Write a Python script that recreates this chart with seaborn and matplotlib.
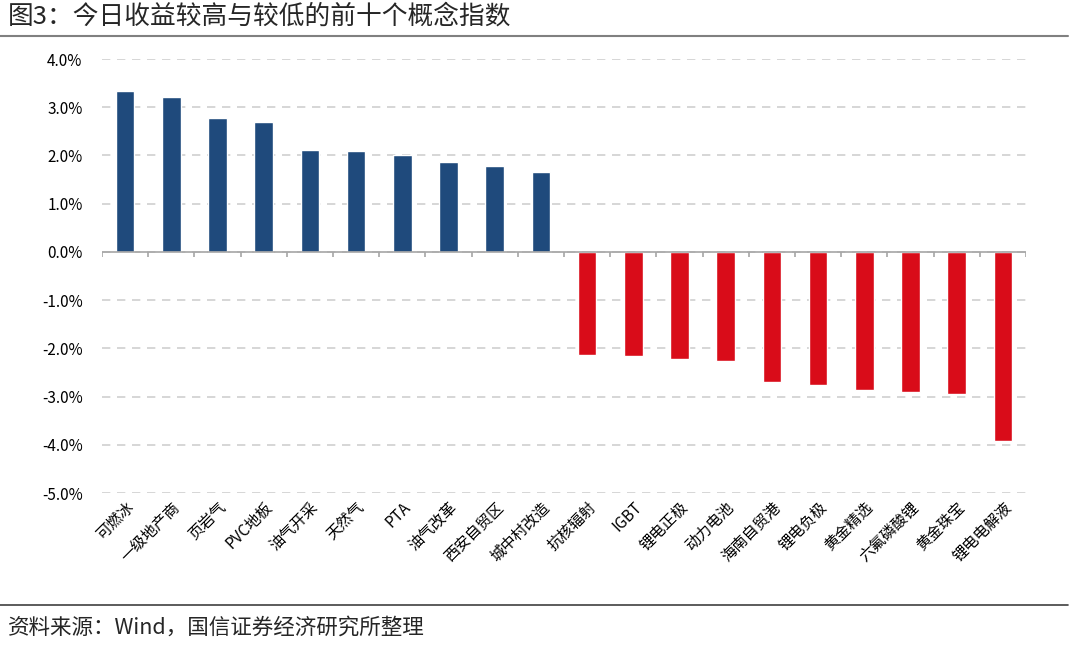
"""
今日收益较高与较低的前十个概念指数 - bar chart
"""

import numpy as np
import matplotlib
matplotlib.use("Agg")
import matplotlib.pyplot as plt
import seaborn as sns
from matplotlib.ticker import FuncFormatter

# data (%)
top_names = ['可燃冰', '一级地产商', '页岩气', 'PVC地板', '油气开采', '天然气',
             'PTA', '油气改革', '西安自贸区', '城中村改造']
top_values = [3.33, 3.21, 2.77, 2.70, 2.11, 2.09, 2.00, 1.86, 1.78, 1.65]
bottom_names = ['抗核辐射', 'IGBT', '锂电正极', '动力电池', '海南自贸港', '锂电负极',
                '黄金精选', '六氟磷酸锂', '黄金珠宝', '锂电电解液']
bottom_values = [-2.14, -2.16, -2.23, -2.27, -2.69, -2.76, -2.86, -2.90, -2.94, -3.93]
y_ticks = [4, 3, 2, 1, 0, -1, -2, -3, -4, -5]

BLUE = '#1F4A7C'
RED = '#D90C19'

sns.set_style("white")
plt.rcParams['font.family'] = ['Noto Sans CJK SC', 'DejaVu Sans']
plt.rcParams['axes.unicode_minus'] = False

names = top_names + bottom_names
values = top_values + bottom_values
colors = [BLUE] * len(top_names) + [RED] * len(bottom_names)

fig = plt.figure(figsize=(10.8, 6.45), dpi=100)
ax = fig.add_axes([102 / 1080, 1 - 493 / 645, 924 / 1080, 434 / 645])

sns.barplot(x=names, y=values, hue=names, palette=colors, legend=False,
            width=0.4, saturation=1, ax=ax, zorder=3)

ax.set_ylim(min(y_ticks), max(y_ticks))
ax.set_xlim(-0.5, len(names) - 0.5)
ax.set_yticks(y_ticks)
ax.yaxis.set_major_formatter(FuncFormatter(lambda v, p: f'{v:.1f}%'))
ax.grid(axis='y', color='#D0D0D0', linestyle=(0, (5, 4)), linewidth=1.2, zorder=0)
ax.grid(axis='x', visible=False)
for s in ax.spines.values():
    s.set_visible(False)

# zero line with category separators
ax.axhline(0, color='#A6A6A6', linewidth=1.2, zorder=4)
ax.vlines(np.arange(len(names) + 1) - 0.5, -0.1, 0, color='#A6A6A6', linewidth=1.2, zorder=4)

ax.tick_params(axis='both', length=0, labelsize=11, colors='black')
ax.tick_params(axis='y', pad=14)
ax.tick_params(axis='x', pad=4)
plt.setp(ax.get_xticklabels(), rotation=45, ha='right', rotation_mode='anchor')
ax.set_xlabel('')
ax.set_ylabel('')

# title, separators and source
fig.text(8 / 1080, 1 - 17 / 645, '图3：今日收益较高与较低的前十个概念指数',
         fontsize=18.5, va='center', ha='left')
fig.add_artist(plt.Line2D([0, 1068 / 1080], [1 - 36 / 645, 1 - 36 / 645],
                          color='#808080', linewidth=1.5))
fig.add_artist(plt.Line2D([0, 1068 / 1080], [1 - 605 / 645, 1 - 605 / 645],
                          color='#404040', linewidth=1.2))
fig.text(8 / 1080, 1 - 628 / 645, '资料来源：Wind，国信证券经济研究所整理',
         fontsize=15.5, va='center', ha='left')

fig.savefig('out.png', dpi=100)
plt.close(fig)
